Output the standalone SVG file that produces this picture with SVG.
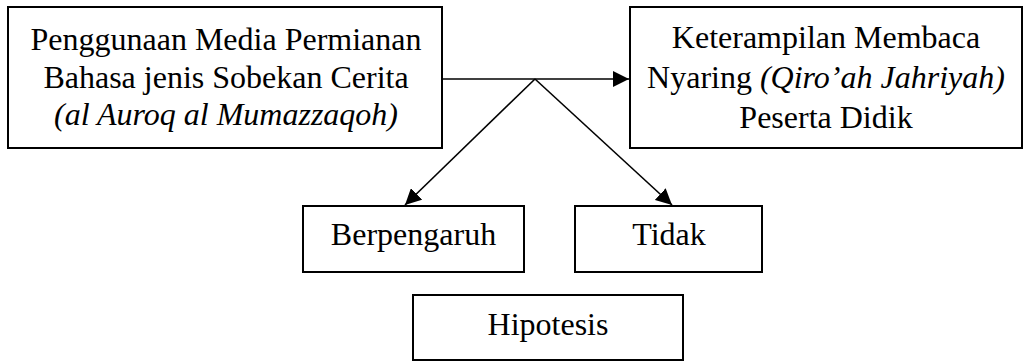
<svg xmlns="http://www.w3.org/2000/svg" width="1024" height="361" viewBox="0 0 1024 361">
<defs>
<style>
.box{fill:#fff;stroke:#000;stroke-width:2}
.t{font-family:"Liberation Serif","Times New Roman",serif;font-size:32px;fill:#000;text-anchor:middle}
.i{font-style:italic}
.c{stroke:#000;stroke-width:1.6;fill:none}
</style>
<marker id="ah" viewBox="0 0 10 10" refX="10" refY="5" markerWidth="16" markerHeight="16" markerUnits="userSpaceOnUse" orient="auto">
<path d="M0,0 L10,5 L0,10 Z" fill="#000"/>
</marker>
</defs>
<rect width="1024" height="361" fill="#fff"/>
<g id="connectors">
<line class="c" x1="442" y1="79" x2="629" y2="79" marker-end="url(#ah)"/>
<line class="c" x1="535" y1="79" x2="405" y2="205" marker-end="url(#ah)"/>
<line class="c" x1="535" y1="79" x2="672" y2="205" marker-end="url(#ah)"/>
</g>
<g id="node-media">
<rect class="box" x="8" y="7" width="434" height="141"/>
<text class="t" x="226" y="50">Penggunaan Media Permianan</text>
<text class="t" x="226" y="87.5">Bahasa jenis Sobekan Cerita</text>
<text class="t i" x="226" y="125">(al Auroq al Mumazzaqoh)</text>
</g>
<g id="node-keterampilan">
<rect class="box" x="630" y="7" width="392" height="141"/>
<text class="t" x="826" y="48">Keterampilan Membaca</text>
<text class="t" x="826" y="88">Nyaring <tspan class="i">(Qiro’ah Jahriyah)</tspan></text>
<text class="t" x="826" y="128">Peserta Didik</text>
</g>
<g id="node-berpengaruh">
<rect class="box" x="303" y="206" width="221" height="66"/>
<text class="t" x="413.5" y="245">Berpengaruh</text>
</g>
<g id="node-tidak">
<rect class="box" x="575" y="206" width="187" height="66"/>
<text class="t" x="669" y="245">Tidak</text>
</g>
<g id="node-hipotesis">
<rect class="box" x="413" y="295" width="270" height="65"/>
<text class="t" x="548" y="335">Hipotesis</text>
</g>
</svg>
